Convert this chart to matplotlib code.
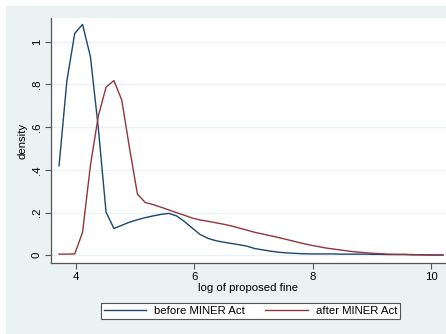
import matplotlib
matplotlib.use('Agg')
import matplotlib.pyplot as plt
from matplotlib.patches import Rectangle

plt.rcParams['font.family'] = ['Liberation Sans', 'DejaVu Sans']

# kdensity evaluation grid (log of proposed fine)
xgrid = [3.712, 3.844, 3.977, 4.109, 4.242, 4.374, 4.506, 4.639, 4.771, 4.904,
         5.036, 5.168, 5.301, 5.433, 5.566, 5.698, 5.830, 5.963, 6.095, 6.228,
         6.360, 6.492, 6.625, 6.757, 6.890, 7.022, 7.154, 7.287, 7.419, 7.552,
         7.684, 7.816, 7.949, 8.081, 8.214, 8.346, 8.478, 8.611, 8.743, 8.876,
         9.008, 9.140, 9.273, 9.405, 9.538, 9.670, 9.802, 9.935, 10.067, 10.2]

before = [0.419, 0.816, 1.039, 1.081, 0.930, 0.600, 0.202, 0.125, 0.140, 0.155,
          0.166, 0.176, 0.184, 0.191, 0.196, 0.184, 0.158, 0.127, 0.097, 0.079,
          0.068, 0.061, 0.055, 0.049, 0.042, 0.031, 0.025, 0.019, 0.014, 0.011,
          0.009, 0.007, 0.006, 0.006, 0.006, 0.006, 0.005, 0.005, 0.005, 0.005,
          0.004, 0.004, 0.003, 0.003, 0.003, 0.002, 0.002, 0.001, 0.001, 0.001]

after = [0.005, 0.005, 0.006, 0.107, 0.420, 0.650, 0.787, 0.818, 0.727, 0.500,
         0.286, 0.247, 0.237, 0.225, 0.212, 0.199, 0.187, 0.174, 0.165, 0.159,
         0.152, 0.145, 0.137, 0.127, 0.117, 0.107, 0.099, 0.091, 0.083, 0.074,
         0.065, 0.056, 0.048, 0.041, 0.034, 0.029, 0.024, 0.019, 0.015, 0.012,
         0.009, 0.007, 0.005, 0.004, 0.004, 0.003, 0.002, 0.002, 0.001, 0.001]

yticks = [0, 0.2, 0.4, 0.6, 0.8, 1]
ytick_labels = ['0', '.2', '.4', '.6', '.8', '1']
xticks = [4, 6, 8, 10]

bg = '#eaf2f3'
navy = '#1a476f'
maroon = '#90353b'
fs = 8.2

fig = plt.figure(figsize=(4.46, 3.34), dpi=100, facecolor='white')
fig.patches.append(Rectangle((6 / 446, 0), 1, 1 - 6 / 334, transform=fig.transFigure,
                             facecolor=bg, edgecolor='none', zorder=-10))

ax = fig.add_axes([51 / 446, 71 / 334, 395 / 446, 245 / 334])
ax.set_facecolor('white')
ax.plot(xgrid, before, color=navy, lw=1.0, label='before MINER Act')
ax.plot(xgrid, after, color=maroon, lw=1.0, label='after MINER Act')

ax.set_xlim(3.576, 10.25)
ax.set_ylim(-0.0365, 1.111)
ax.set_yticks(yticks)
ax.set_yticklabels(ytick_labels, rotation=90, va='center')
ax.set_xticks(xticks)
ax.grid(axis='y', color=bg, lw=1.0)
ax.set_axisbelow(True)
for s in ['top', 'right']:
    ax.spines[s].set_visible(False)
for s in ['left', 'bottom']:
    ax.spines[s].set_color('#555555')
    ax.spines[s].set_linewidth(0.9)
ax.tick_params(labelsize=fs, length=4, color='#555555', pad=2.5)
ax.set_xlabel('log of proposed fine', fontsize=fs, labelpad=1)
ax.set_ylabel('density', fontsize=fs, labelpad=3)

leg = fig.legend(loc='center', bbox_to_anchor=(250.5 / 446, 23 / 334), ncol=2,
                 fontsize=fs, fancybox=False, framealpha=1, edgecolor='#555555',
                 handlelength=3.7, columnspacing=1.8, borderpad=0.3, handletextpad=0.7)
leg.get_frame().set_linewidth(0.8)

fig.savefig('out.png', dpi=100, facecolor=fig.get_facecolor())
